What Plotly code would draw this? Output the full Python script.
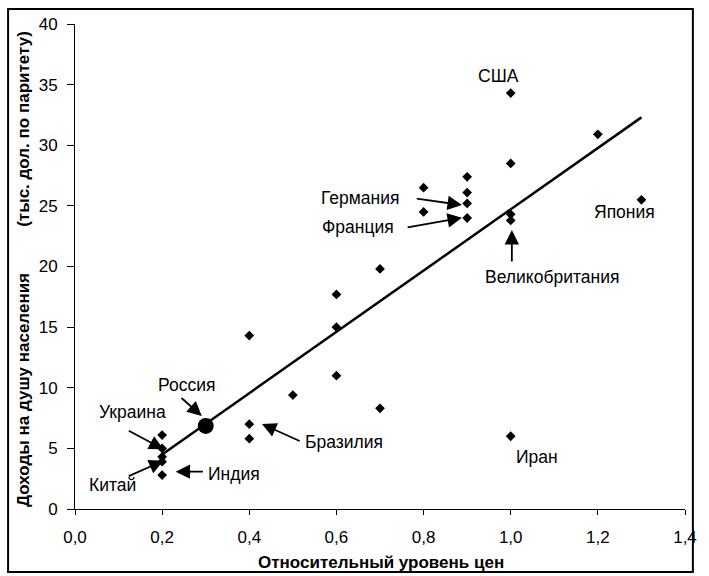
import plotly.graph_objects as go

# Data: relative price level (x) vs income per capita, thous. PPP dollars (y)
price_level = [0.2, 0.2, 0.2, 0.2, 0.2, 0.4, 0.4, 0.4, 0.5, 0.6, 0.6, 0.6,
               0.7, 0.7, 0.8, 0.8, 0.9, 0.9, 0.9, 0.9, 1.0, 1.0, 1.0, 1.0, 1.0,
               1.2, 1.3]
income = [6.1, 5.0, 4.3, 3.9, 2.8, 14.3, 7.0, 5.8, 9.4, 17.7, 15.0, 11.0,
          19.8, 8.3, 26.5, 24.5, 27.4, 26.1, 25.2, 24.0, 34.3, 28.5, 24.3, 23.8, 6.0,
          30.9, 25.5]

russia_x = [0.3]
russia_y = [6.85]

trend_x = [0.2, 1.3]
trend_y = [4.5, 32.3]

x_ticks = [0.0, 0.2, 0.4, 0.6, 0.8, 1.0, 1.2, 1.4]
y_ticks = [0, 5, 10, 15, 20, 25, 30, 35, 40]

# Country labels (text, x, y)
label_text = ["США", "Германия", "Франция", "Великобритания", "Япония", "Россия",
              "Украина", "Китай", "Индия", "Бразилия", "Иран"]
label_x = [0.973, 0.655, 0.650, 1.095, 1.262, 0.256, 0.132, 0.086, 0.365, 0.618, 1.061]
label_y = [35.7, 25.62, 23.28, 19.13, 24.52, 10.23, 8.02, 1.98, 2.89, 5.5, 4.3]

# Arrows (tail x, tail y, head x, head y)
arrow_tail_x = [0.781, 0.760, 1.0026, 0.241, 0.120, 0.120, 0.297, 0.519]
arrow_tail_y = [25.62, 23.20, 20.29, 9.26, 6.52, 2.66, 3.08, 5.55]
arrow_head_x = [0.888, 0.888, 1.0026, 0.291, 0.203, 0.203, 0.231, 0.429]
arrow_head_y = [25.07, 24.02, 23.01, 7.67, 4.92, 3.98, 3.08, 7.01]

FONT = "Liberation Sans, Arial, sans-serif"

fig = go.Figure()
fig.add_trace(go.Scatter(x=price_level, y=income, mode="markers",
                         marker=dict(symbol="diamond", size=7.5, color="black"),
                         showlegend=False, cliponaxis=False))
fig.add_trace(go.Scatter(x=trend_x, y=trend_y, mode="lines",
                         line=dict(color="black", width=2.5), showlegend=False))
fig.add_trace(go.Scatter(x=russia_x, y=russia_y, mode="markers",
                         marker=dict(symbol="circle", size=16, color="black"),
                         showlegend=False))

annotations = []
for t, x, y in zip(label_text, label_x, label_y):
    annotations.append(dict(x=x, y=y, xref="x", yref="y", text=t, showarrow=False,
                            font=dict(family=FONT, size=17.5, color="black"),
                            xanchor="center", yanchor="middle"))
for tx, ty, hx, hy in zip(arrow_tail_x, arrow_tail_y, arrow_head_x, arrow_head_y):
    annotations.append(dict(x=hx, y=hy, xref="x", yref="y", ax=tx, ay=ty,
                            axref="x", ayref="y", text="", showarrow=True,
                            arrowhead=2, arrowsize=1.6, arrowwidth=1.8,
                            arrowcolor="black", standoff=0, startstandoff=0))

# Axis titles
annotations.append(dict(x=0.502, y=-0.111, xref="paper", yref="paper",
                        text="<b>Относительный уровень цен</b>", showarrow=False,
                        font=dict(family=FONT, size=17, color="black"),
                        xanchor="center", yanchor="middle"))
annotations.append(dict(x=-0.0855, y=0.245, xref="paper", yref="paper",
                        text="<b>Доходы на душу населения</b>", showarrow=False,
                        textangle=-90,
                        font=dict(family=FONT, size=17, color="black"),
                        xanchor="center", yanchor="middle"))
annotations.append(dict(x=-0.0855, y=0.7835, xref="paper", yref="paper",
                        text="<b>(тыс. дол. по паритету)</b>", showarrow=False,
                        textangle=-90,
                        font=dict(family=FONT, size=17, color="black"),
                        xanchor="center", yanchor="middle"))

fig.update_layout(
    width=709, height=576,
    margin=dict(l=75, r=14, t=24, b=67),
    paper_bgcolor="white", plot_bgcolor="white",
    separators=", ",
    font=dict(family=FONT, size=17, color="black"),
    annotations=annotations,
    shapes=[dict(type="rect", xref="paper", yref="paper",
                 x0=-0.1097, x1=1.0129, y0=-0.1299, y1=1.0309,
                 line=dict(color="black", width=2))],
)
fig.update_xaxes(range=[0, 1.4], tickvals=x_ticks, tickformat=".1f",
                 showline=True, linecolor="black", linewidth=1,
                 ticks="outside", ticklen=5, tickcolor="black",
                 showgrid=False, zeroline=False, ticklabelstandoff=8)
fig.update_yaxes(range=[0, 40], tickvals=y_ticks,
                 showline=True, linecolor="black", linewidth=1,
                 ticks="outside", ticklen=7, tickcolor="black",
                 showgrid=False, zeroline=False, ticklabelstandoff=6)

fig.write_html("out.html", config={"displayModeBar": False},
               post_script="document.body.style.margin='0';document.body.style.overflow='hidden';")
